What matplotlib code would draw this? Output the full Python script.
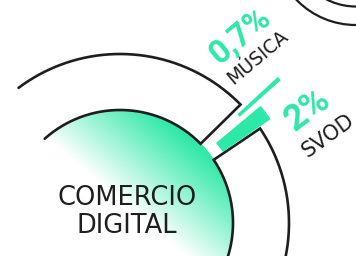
import numpy as np
import matplotlib
matplotlib.use("Agg")
import matplotlib.pyplot as plt
from matplotlib.colors import LinearSegmentedColormap
from matplotlib.patches import Circle

# ---- data ----
categories = ["COMERCIO DIGITAL", "MÚSICA", "SVOD"]
share_labels = ["", "0,7%", "2%"]
bar_categories = ["MÚSICA", "SVOD"]
bar_labels = ["0,7%", "2%"]

# ---- style / geometry ----
GREEN = "#2ee8a8"
INK = "#1e1e1e"
W, H = 356, 256
CX, CY = 120, 223          # centre of the ring, image pixels
R_IN, R_OUT = 113, 169
RMAX = 240

fig = plt.figure(figsize=(W / 100, H / 100), dpi=100)

# polar axes for the main chart, centred at (CX, CY)
fx, fy = CX, H - CY
ax = fig.add_axes([(fx - RMAX) / W, (fy - RMAX) / H, 2 * RMAX / W, 2 * RMAX / H],
                  projection="polar")
ax.set_rlim(0, RMAX)
ax.axis("off")

# gradient disc (Comercio digital)
th = np.linspace(0, 2 * np.pi, 361)
rr = np.linspace(0, R_IN, 60)
TH, RR = np.meshgrid(th, rr)
X, Y = RR * np.cos(TH), RR * np.sin(TH)
g = np.deg2rad(50)
v = X * np.cos(g) + Y * np.sin(g)
t = np.clip((v - 18) / 92, 0, 1)
cmap = LinearSegmentedColormap.from_list("g", ["#ffffff", GREEN])
ax.pcolormesh(TH, RR, t, cmap=cmap, vmin=0, vmax=1, shading="gouraud", zorder=1)

# outlines of the ring sectors
def arc(a0, a1, n=200):
    return np.deg2rad(np.linspace(a0, a1, n))

up_t = np.concatenate([arc(126.9, 44.5), arc(44.5, 44.5, 2), arc(44.5, 131.8)])
up_r = np.concatenate([np.full(200, R_OUT), [R_OUT, R_IN], np.full(200, R_IN)])
ax.plot(up_t, up_r, color=INK, lw=1.9, solid_joinstyle="miter",
        solid_capstyle="round", zorder=3)
lo_t = np.concatenate([arc(-40, 34), arc(34, 34, 2), arc(34, -40)])
lo_r = np.concatenate([np.full(200, R_OUT), [R_OUT, R_IN], np.full(200, R_IN)])
ax.plot(lo_t, lo_r, color=INK, lw=1.9, solid_joinstyle="miter", zorder=3)

# bars
bar_theta = np.deg2rad([42.2, 37.2])
bar_width = np.deg2rad([1.2, 5.2])
bar_bottom = [160, 125]
bar_top = [215, 183]
ax.bar(bar_theta, np.array(bar_top) - np.array(bar_bottom), width=bar_width,
       bottom=bar_bottom, color=GREEN, linewidth=0, zorder=4)

# overlay in image-pixel coordinates for labels and the neighbour rings
ov = fig.add_axes([0, 0, 1, 1])
ov.set_xlim(0, W)
ov.set_ylim(H, 0)
ov.axis("off")
for r in (82.5, 64):
    ov.add_patch(Circle((355.8, -57.5), r, fill=False, ec=INK, lw=1.6))

font = "DejaVu Sans"
numfont = "Roboto"
ov.text(127, 205, "COMERCIO", ha="center", va="baseline", fontsize=18.5,
        color=INK, family=font)
ov.text(127, 233, "DIGITAL", ha="center", va="baseline", fontsize=18.5,
        color=INK, family=font)

ov.text(240, 36, bar_labels[0], ha="center", va="center", rotation=40,
        rotation_mode="anchor", fontsize=23.5, fontweight="bold", color=GREEN, family=numfont)
ov.text(258, 57, bar_categories[0], ha="center", va="center", rotation=40,
        rotation_mode="anchor", fontsize=13.5, color=INK, family=font)
ov.text(308, 110, bar_labels[1], ha="center", va="center", rotation=37,
        rotation_mode="anchor", fontsize=26, fontweight="bold", color=GREEN, family=numfont)
ov.text(328, 136, bar_categories[1], ha="center", va="center", rotation=36,
        rotation_mode="anchor", fontsize=15, color=INK, family=font)

fig.savefig("out.png", dpi=100)
